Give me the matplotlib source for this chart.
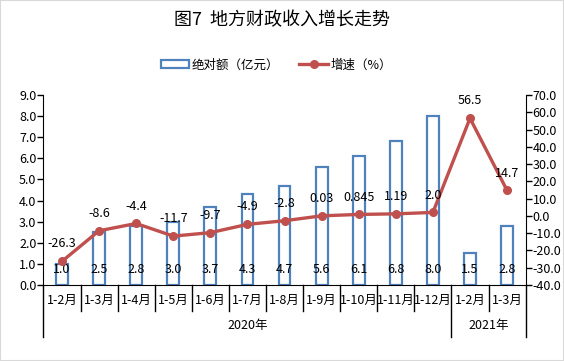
import matplotlib
matplotlib.use("Agg")
import matplotlib.pyplot as plt
from matplotlib.patches import Rectangle
from matplotlib.lines import Line2D

plt.rcParams['font.family'] = ['Noto Sans CJK SC', 'DejaVu Sans']

months = ["1-2月", "1-3月", "1-4月", "1-5月", "1-6月", "1-7月", "1-8月",
          "1-9月", "1-10月", "1-11月", "1-12月", "1-2月", "1-3月"]
years = ["2020年", "2021年"]
year_counts = [11, 2]
amount = [1.0, 2.5, 2.8, 3.0, 3.7, 4.3, 4.7, 5.6, 6.1, 6.8, 8.0, 1.5, 2.8]
growth = [-26.3, -8.6, -4.4, -11.7, -9.7, -4.9, -2.8, 0.03, 0.845, 1.19, 2.0, 56.5, 14.7]
amount_labels = ["1.0", "2.5", "2.8", "3.0", "3.7", "4.3", "4.7", "5.6", "6.1", "6.8", "8.0", "1.5", "2.8"]
growth_labels = ["-26.3", "-8.6", "-4.4", "-11.7", "-9.7", "-4.9", "-2.8", "0.03", "0.845", "1.19", "2.0", "56.5", "14.7"]

blue = "#4F81BD"
red = "#C0504D"

fig = plt.figure(figsize=(5.64, 3.61), dpi=100)
fig.patches.append(Rectangle((0, 0), 1, 1, transform=fig.transFigure, fill=False,
                             edgecolor="#D9D9D9", linewidth=1.5))
ax = fig.add_axes([0.077, 0.2105, 0.855, 0.5265])
ax2 = ax.twinx()

x = list(range(len(months)))
ax.bar(x, amount, width=0.32, facecolor="white", edgecolor=blue, linewidth=1.6, zorder=2)
ax.set_xlim(-0.5, len(months) - 0.5)
ax.set_ylim(0, 9)
ax.set_yticks([i * 1.0 for i in range(10)])
ax.set_yticklabels([f"{i:.1f}" for i in range(10)])

ax2.plot(x, growth, color=red, linewidth=2.4, marker="o", markersize=5.5, zorder=3)
ax2.set_ylim(-40, 70)
ax2.set_yticks(list(range(-40, 71, 10)))
ax2.set_yticklabels([f"{v:.1f}" for v in range(-40, 71, 10)])

for a in (ax, ax2):
    a.spines["top"].set_visible(False)
    a.tick_params(axis="y", labelsize=9, length=4, width=1, direction="out", pad=1)
ax.spines["right"].set_visible(False)
ax2.spines["left"].set_visible(False)
ax2.spines["bottom"].set_visible(False)
ax.set_xticks([])

# bar labels near bar bottom
for xi, lab in zip(x, amount_labels):
    ax.text(xi, 0.079, lab, transform=ax.get_xaxis_transform(), ha="center", va="center",
            fontsize=9, zorder=5)
# line labels above points
for xi, v, lab in zip(x, growth, growth_labels):
    ax2.annotate(lab, (xi, v), xytext=(0, 12.5), textcoords="offset points",
                 ha="center", va="center", fontsize=9, zorder=5)

# category axis with group dividers
tr = ax.get_xaxis_transform()
for i in range(len(months) + 1):
    xb = i - 0.5
    long = i in (0, year_counts[0], len(months))
    y0 = -0.271 if long else -0.137
    ax.add_line(Line2D([xb, xb], [0, y0], transform=tr, color="black", linewidth=1, clip_on=False))
for xi, lab in zip(x, months):
    ax.text(xi, -0.079, lab, transform=tr, ha="center", va="center", fontsize=9)
start = 0
for yl, c in zip(years, year_counts):
    ax.text(start + (c - 1) / 2, -0.215, yl, transform=tr, ha="center", va="center", fontsize=9)
    start += c

fig.text(0.5, 0.945, "图7  地方财政收入增长走势", ha="center", va="center", fontsize=13)

h1 = Rectangle((0, 0), 1, 1, facecolor="white", edgecolor=blue, linewidth=1.6)
h2 = Line2D([], [], color=red, linewidth=2.4, marker="o", markersize=5.5)
fig.legend([h1, h2], ["绝对额（亿元）", "增速（%）"], loc="center", bbox_to_anchor=(0.49, 0.82),
           ncol=2, frameon=False, fontsize=9, handlelength=2.3, handleheight=0.6,
           columnspacing=1.6, handletextpad=0.2)

fig.savefig("out.png", dpi=100)
